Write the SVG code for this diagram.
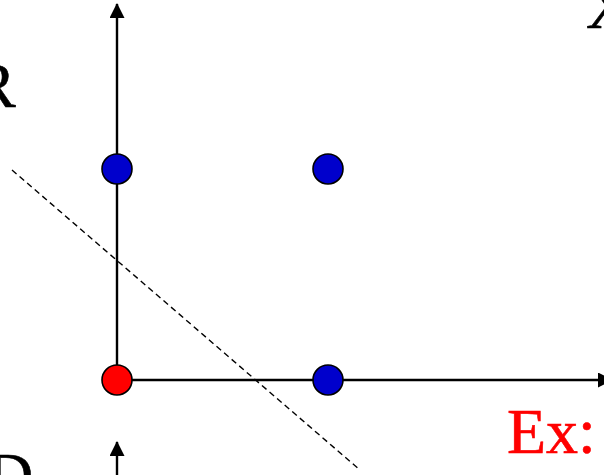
<svg xmlns="http://www.w3.org/2000/svg" width="604" height="475" viewBox="0 0 604 475">
<style>
.axis{stroke:#000;stroke-width:2.4;fill:none}
.dash{stroke:#000;stroke-width:1.4;stroke-dasharray:6 4;fill:none}
.pt{stroke:#000;stroke-width:1.6}
.lbl{font-family:"Liberation Serif","Times New Roman",serif;font-size:64px;fill:#000;stroke:#000;stroke-width:0.6}
</style>
<defs>
<marker id="ah" markerWidth="15" markerHeight="15" refX="14" refY="7.5" orient="auto" markerUnits="userSpaceOnUse" viewBox="0 0 15 15">
<path d="M0,0 L15,7.5 L0,15 Z" fill="#000"/>
</marker>
</defs>
<rect width="604" height="475" fill="#fff"/>
<g id="connectors">
<line class="axis" x1="117" y1="380" x2="117" y2="4" marker-end="url(#ah)"/>
<line class="axis" x1="117" y1="380" x2="612" y2="380" marker-end="url(#ah)"/>
<line class="axis" x1="117" y1="480" x2="117" y2="442" marker-end="url(#ah)"/>
<line class="dash" x1="12" y1="170" x2="360" y2="470"/>
</g>
<g id="p00"><circle class="pt" cx="117" cy="380" r="15" fill="#FF0000"/></g>
<g id="p10"><circle class="pt" cx="328" cy="380" r="15" fill="#0000CC"/></g>
<g id="p01"><circle class="pt" cx="117" cy="169" r="15" fill="#0000CC"/></g>
<g id="p11"><circle class="pt" cx="328" cy="169" r="15" fill="#0000CC"/></g>
<g id="labels">
<text class="lbl" x="-27" y="107">R</text>
<text class="lbl" x="586" y="28">X</text>
<text class="lbl" x="-13" y="497">D</text>
<text class="lbl" x="507" y="453" style="fill:#FF0000;stroke:#FF0000">Ex:</text>
</g>
</svg>
